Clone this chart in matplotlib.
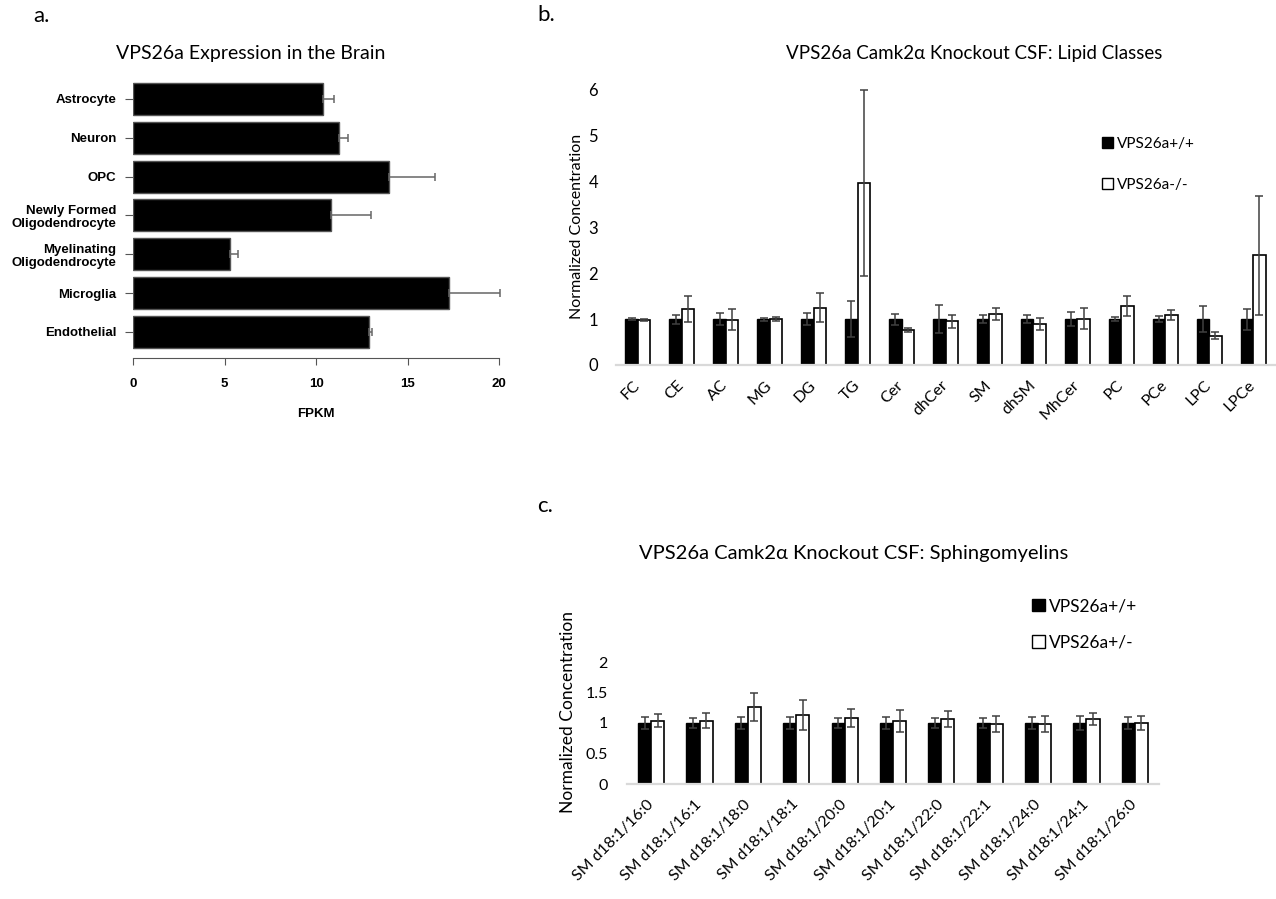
import matplotlib
matplotlib.use('Agg')
import matplotlib.pyplot as plt
from matplotlib.patches import Patch
import numpy as np

# ---------------- data ----------------
cell_types = ['Astrocyte', 'Neuron', 'OPC', 'Newly Formed\nOligodendrocyte',
              'Myelinating\nOligodendrocyte', 'Microglia', 'Endothelial']
fpkm = [10.37, 11.26, 14.0, 10.83, 5.30, 17.25, 12.87]
fpkm_err = [0.64, 0.48, 2.49, 2.16, 0.45, 2.79, 0.21]
fpkm_ticks = [0, 5, 10, 15, 20]

lipid_classes = ['FC', 'CE', 'AC', 'MG', 'DG', 'TG', 'Cer', 'dhCer', 'SM', 'dhSM',
                 'MhCer', 'PC', 'PCe', 'LPC', 'LPCe']
lipid_wt = [1.0, 1.0, 1.0, 1.0, 1.0, 1.0, 1.0, 1.0, 1.0, 1.0, 1.0, 1.0, 1.0, 1.0, 1.0]
lipid_wt_err = [0.02, 0.10, 0.13, 0.03, 0.13, 0.40, 0.12, 0.30, 0.09, 0.09, 0.16, 0.05, 0.06, 0.28, 0.23]
lipid_ko = [0.98, 1.22, 0.99, 1.0, 1.25, 3.97, 0.76, 0.95, 1.12, 0.89, 1.01, 1.28, 1.10, 0.64, 2.39]
lipid_ko_err = [0.02, 0.29, 0.23, 0.05, 0.31, 2.03, 0.05, 0.14, 0.13, 0.13, 0.23, 0.22, 0.11, 0.08, 1.30]
lipid_yticks = [0, 1, 2, 3, 4, 5, 6]

sm_species = ['SM d18:1/16:0', 'SM d18:1/16:1', 'SM d18:1/18:0', 'SM d18:1/18:1',
              'SM d18:1/20:0', 'SM d18:1/20:1', 'SM d18:1/22:0', 'SM d18:1/22:1',
              'SM d18:1/24:0', 'SM d18:1/24:1', 'SM d18:1/26:0']
sm_wt = [1.0, 1.0, 1.0, 1.0, 1.0, 1.0, 1.0, 1.0, 1.0, 1.0, 1.0]
sm_wt_err = [0.10, 0.08, 0.10, 0.10, 0.08, 0.10, 0.08, 0.08, 0.10, 0.12, 0.10]
sm_het = [1.04, 1.04, 1.26, 1.13, 1.08, 1.03, 1.06, 0.98, 0.98, 1.06, 1.0]
sm_het_err = [0.10, 0.13, 0.23, 0.24, 0.15, 0.18, 0.13, 0.13, 0.13, 0.10, 0.12]
sm_yticks = [0, 0.5, 1, 1.5, 2]
sm_yticklabels = ['0', '0.5', '1', '1.5', '2']

# ---------------- figure ----------------
W, H = 1276, 899
fig = plt.figure(figsize=(W / 100, H / 100), dpi=100)

SANS = ['Lato', 'DejaVu Sans']
BOLD = ['Liberation Sans', 'DejaVu Sans']


def px_axes(l, t, r, b):
    return fig.add_axes([l / W, 1 - b / H, (r - l) / W, (b - t) / H])


def fx(x):
    return x / W


def fy(y):
    return 1 - y / H

# ---------------- panel a ----------------
axa = px_axes(133, 79, 510, 352)
ypos = np.arange(len(cell_types))
axa.barh(ypos, fpkm, height=0.82, color='black', edgecolor='#555555', linewidth=1.0, zorder=2)
axa.errorbar(fpkm, ypos, xerr=[np.zeros(len(fpkm)), fpkm_err], fmt='none',
             ecolor='#666666', elinewidth=1.1, capsize=3.2, capthick=1.1, zorder=3, clip_on=False)
axa.set_xlim(0, 20.6)
axa.set_ylim(6.52, -0.515)
for s in ['top', 'right', 'left']:
    axa.spines[s].set_visible(False)
axa.spines['bottom'].set_position(('outward', 4.5))
axa.spines['bottom'].set_bounds(0, 20)
axa.spines['bottom'].set_color('#555555')
axa.set_xticks(fpkm_ticks)
axa.set_xticklabels([str(t) for t in fpkm_ticks], family=BOLD, fontweight='bold', fontsize=9.5)
axa.set_yticks(ypos)
axa.set_yticklabels(cell_types, family=BOLD, fontweight='bold', fontsize=9.5, linespacing=1.15)
axa.tick_params(axis='x', length=5, color='#555555', pad=9)
axa.tick_params(axis='y', length=6, color='#555555', pad=6)
axa.set_xlabel('FPKM', family=BOLD, fontweight='bold', fontsize=9.5)
axa.xaxis.set_label_coords((316 - 133) / (510 - 133), -0.205)
fig.text(fx(251), fy(53), 'VPS26a Expression in the Brain', family=SANS, fontsize=14,
         ha='center', va='center')
fig.text(fx(33), fy(16), 'a.', family=SANS, fontsize=16, ha='left', va='center')

# ---------------- panel b ----------------
axb = px_axes(616, 90, 1275, 365)
w = 0.285
xb = np.arange(len(lipid_classes))
axb.bar(xb - w / 2, lipid_wt, width=w, color='black', edgecolor='black', linewidth=1.0, zorder=2)
axb.bar(xb + w / 2, lipid_ko, width=w, color='white', edgecolor='black', linewidth=1.2, zorder=2)
axb.errorbar(xb - w / 2, lipid_wt, yerr=lipid_wt_err, fmt='none', ecolor='#404040',
             elinewidth=1.1, capsize=3, capthick=1.1, zorder=3)
axb.errorbar(xb + w / 2, lipid_ko, yerr=lipid_ko_err, fmt='none', ecolor='#404040',
             elinewidth=1.1, capsize=3, capthick=1.1, zorder=3, clip_on=False)
axb.set_xlim(-0.5, 14.5)
axb.set_ylim(0, 6)
for s in ['top', 'right', 'left']:
    axb.spines[s].set_visible(False)
axb.spines['bottom'].set_color('#d9d9d9')
axb.spines['bottom'].set_linewidth(1.6)
axb.set_yticks(lipid_yticks)
axb.set_yticklabels([str(t) for t in lipid_yticks], family=SANS, fontsize=12)
axb.set_xticks(xb)
axb.set_xticklabels(lipid_classes, family=SANS, fontsize=11.5, rotation=45,
                    ha='right', va='center', rotation_mode='anchor')
axb.tick_params(axis='y', length=0, pad=13)
axb.tick_params(axis='x', length=0, pad=13)
axb.set_ylabel('Normalized Concentration', family=SANS, fontsize=11.5)
axb.yaxis.set_label_coords((584 - 616) / (1275 - 616), 0.505)
legb = axb.legend(handles=[Patch(facecolor='black', edgecolor='black', label='VPS26a+/+'),
                           Patch(facecolor='white', edgecolor='black', label='VPS26a-/-')],
                  loc='upper left', bbox_to_anchor=(fx(1102), fy(137)),
                  bbox_transform=fig.transFigure, frameon=False, prop={'family': SANS, 'size': 11},
                  handlelength=0.72, handleheight=0.72, handletextpad=0.25, labelspacing=1.75,
                  borderpad=0, borderaxespad=0)
fig.text(fx(974), fy(53), 'VPS26a Camk2\u03b1 Knockout CSF: Lipid Classes', family=SANS,
         fontsize=13.5, ha='center', va='center')
fig.text(fx(537), fy(15), 'b.', family=SANS, fontsize=16, ha='left', va='center')

# ---------------- panel c ----------------
axc = px_axes(627, 662, 1159, 784)
w2 = 0.27
xc = np.arange(len(sm_species))
axc.bar(xc - w2 / 2, sm_wt, width=w2, color='black', edgecolor='black', linewidth=1.0, zorder=2)
axc.bar(xc + w2 / 2, sm_het, width=w2, color='white', edgecolor='black', linewidth=1.2, zorder=2)
axc.errorbar(xc - w2 / 2, sm_wt, yerr=sm_wt_err, fmt='none', ecolor='#404040',
             elinewidth=1.1, capsize=3, capthick=1.1, zorder=3)
axc.errorbar(xc + w2 / 2, sm_het, yerr=sm_het_err, fmt='none', ecolor='#404040',
             elinewidth=1.1, capsize=3, capthick=1.1, zorder=3)
axc.set_xlim(-0.5, 10.5)
axc.set_ylim(0, 2)
for s in ['top', 'right', 'left']:
    axc.spines[s].set_visible(False)
axc.spines['bottom'].set_color('#d9d9d9')
axc.spines['bottom'].set_linewidth(1.6)
axc.set_yticks(sm_yticks)
axc.set_yticklabels(sm_yticklabels, family=SANS, fontsize=11.5)
axc.set_xticks(xc)
axc.set_xticklabels(sm_species, family=SANS, fontsize=11.5, rotation=45,
                    ha='right', va='center', rotation_mode='anchor')
axc.tick_params(axis='y', length=0, pad=14)
axc.tick_params(axis='x', length=0, pad=13)
axc.set_ylabel('Normalized Concentration', family=SANS, fontsize=12.5)
axc.yaxis.set_label_coords((576 - 627) / (1159 - 627), (784 - 712) / (784 - 662))
legc = axc.legend(handles=[Patch(facecolor='black', edgecolor='black', label='VPS26a+/+'),
                           Patch(facecolor='white', edgecolor='black', label='VPS26a+/-')],
                  loc='upper left', bbox_to_anchor=(fx(1032), fy(598)),
                  bbox_transform=fig.transFigure, frameon=False, prop={'family': SANS, 'size': 12.5},
                  handlelength=0.75, handleheight=0.75, handletextpad=0.2, labelspacing=1.2,
                  borderpad=0, borderaxespad=0)
fig.text(fx(854), fy(553), 'VPS26a Camk2\u03b1 Knockout CSF: Sphingomyelins', family=SANS,
         fontsize=14.5, ha='center', va='center')
fig.text(fx(537), fy(506), 'c.', family=SANS, fontsize=16, ha='left', va='center')

fig.savefig('out.png', dpi=100, facecolor='white')
